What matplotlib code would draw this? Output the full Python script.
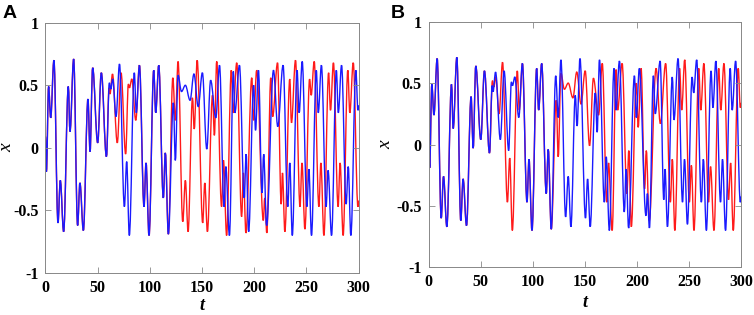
import numpy as np
import matplotlib.pyplot as plt
from matplotlib.path import Path
from matplotlib.patches import PathPatch

# turning points (t, x)
# both trajectories share the same start
common_t = [0, 0.9, 3.0, 5.0, 8.1, 12.0, 14.2, 17.4, 21.9, 23.5, 27.0, 30.8,
            33.0, 36.3, 40.7, 42.7, 45.2, 50.0, 53.5, 58.4]
common_x = [0.09, -0.19, 0.49, 0.24, 0.70, -0.60, -0.26, -0.67, 0.49, 0.13, 0.71, -0.62,
            -0.28, -0.66, 0.39, -0.03, 0.64, 0.04, 0.60, -0.07]

# first split
u1_t = [61.2, 62.6, 64.4, 67.6, 70.9, 75.6, 77.8, 80.3, 85.1, 87.0]
u1_x = [0.52, 0.47, 0.55, 0.25, 0.67, -0.47, -0.11, -0.70, 0.60, 0.28]
v1_t = [60.9, 61.8, 64.2, 68.8, 72.4, 76.8, 79.4, 80.5, 82.7, 86.5]
v1_x = [0.48, 0.43, 0.59, 0.04, 0.60, -0.05, 0.51, 0.48, 0.55, 0.22]

# back together for a while
mid_t = [90.0, 94.4, 96.3, 99.2, 103.7, 105.6, 108.5, 112.9, 114.8, 117.7]
mid_x = [0.66, -0.47, -0.12, -0.70, 0.62, 0.28, 0.66, -0.40, -0.04, -0.69]

# second split
u2_t = [122.5, 124.4, 127.0, 130.3, 134.0, 138.5, 142.2, 146.3, 150.3, 154.5,
        158.2, 163.2, 166.7, 171.1, 172.7, 176.2, 180.0, 181.4, 185.8, 190.4,
        192.2, 194.6, 199.4, 201.2, 204.0, 207.4, 209.0, 211.8, 218.4, 222.5,
        227.6, 232.1, 234.0, 236.4, 241.0, 243.0, 245.9, 250.4, 252.3, 254.8,
        259.4, 261.3, 264.3, 268.8, 270.7, 274.0, 278.6, 280.5, 283.6, 288.0,
        290.0, 292.5, 297.3, 299.3, 300.5]
u2_x = [0.36, -0.10, 0.58, 0.45, 0.50, 0.38, 0.59, 0.33, 0.60, -0.01,
        0.54, 0.24, 0.66, -0.47, -0.15, -0.70, 0.61, 0.28, 0.66, -0.40,
        -0.05, -0.67, 0.50, 0.14, 0.62, -0.36, -0.05, -0.62, 0.62, 0.17,
        0.66, -0.47, -0.12, -0.70, 0.62, 0.28, 0.69, -0.47, -0.17, -0.70,
        0.62, 0.28, 0.66, -0.47, -0.18, -0.70, 0.62, 0.28, 0.66, -0.45,
        -0.15, -0.70, 0.62, 0.30, 0.34]
v2_t = [122.0, 124.4, 127.0, 131.5, 134.0, 136.6, 140.8, 142.5, 145.3, 150.6,
        152.6, 155.1, 160.0, 161.8, 164.0, 168.7, 170.5, 173.5, 178.0, 179.8,
        183.2, 187.9, 189.6, 192.0, 197.6, 199.4, 202.3, 208.7, 210.0, 212.0,
        215.8, 217.6, 222.3, 225.8, 227.0, 229.3, 234.0, 235.6, 239.5, 243.8,
        245.7, 248.5, 253.0, 254.5, 257.4, 261.9, 263.8, 266.7, 271.2, 273.0,
        275.8, 280.3, 282.2, 285.1, 289.6, 291.5, 294.8, 299.3, 300.5]
v2_x = [0.56, 0.22, 0.69, -0.59, -0.26, -0.67, 0.40, 0.15, 0.70, -0.60,
        -0.28, -0.67, 0.42, 0.10, 0.69, -0.47, -0.10, -0.70, 0.62, 0.28,
        0.68, -0.55, -0.20, -0.68, 0.56, 0.22, 0.62, -0.58, -0.40, -0.68,
        0.56, 0.25, 0.68, -0.45, -0.20, -0.67, 0.55, 0.20, 0.70, -0.47,
        -0.12, -0.65, 0.55, 0.42, 0.69, -0.47, -0.12, -0.70, 0.60, 0.30,
        0.68, -0.47, -0.12, -0.70, 0.62, 0.28, 0.68, -0.47, -0.42]

xticks = [0, 50, 100, 150, 200, 250, 300]
yticks = [-1, -0.5, 0, 0.5, 1]
ytick_labels = ['-1', '-0.5', '0', '0.5', '1']

traj_u_t = common_t + u1_t + mid_t + u2_t
traj_u_x = common_x + u1_x + mid_x + u2_x
traj_v_t = common_t + v1_t + mid_t + v2_t
traj_v_x = common_x + v1_x + mid_x + v2_x


def smooth_curve(ax, t, x, color):
    # cubic bezier between turning points, flat tangent at each one
    verts = [(t[0], x[0])]
    codes = [Path.MOVETO]
    for i in range(len(t) - 1):
        d = 0.364 * (t[i + 1] - t[i])
        verts += [(t[i] + d, x[i]), (t[i + 1] - d, x[i + 1]), (t[i + 1], x[i + 1])]
        codes += [Path.CURVE4] * 3
    ax.add_patch(PathPatch(Path(verts, codes), fill=False, edgecolor=color, lw=1.0))


def style(ax):
    ax.set_xlim(0, 300)
    ax.set_ylim(-1, 1)
    ax.set_xticks(xticks)
    ax.set_yticks(yticks)
    ax.set_yticklabels(ytick_labels)
    ax.tick_params(direction='in', top=True, right=True, length=4, width=0.6,
                   color='#888888', pad=5)
    for lab in ax.get_xticklabels() + ax.get_yticklabels():
        lab.set_fontfamily('Liberation Serif')
        lab.set_fontweight('bold')
        lab.set_fontsize(11.5)
    for s in ax.spines.values():
        s.set_color('#888888')
        s.set_linewidth(0.7)


fig = plt.figure(figsize=(7.54, 3.15), dpi=100)
axA = fig.add_axes([0.0603, 0.1333, 0.4154, 0.7947])
axB = fig.add_axes([0.5686, 0.1514, 0.4142, 0.7797])

# panel A: red under blue
smooth_curve(axA, traj_v_t, traj_v_x, '#ff1a1a')
smooth_curve(axA, traj_u_t, traj_u_x, '#1a1aff')
# panel B: the same pair with colours swapped
smooth_curve(axB, traj_u_t, traj_u_x, '#ff1a1a')
smooth_curve(axB, traj_v_t, traj_v_x, '#1a1aff')

for ax in (axA, axB):
    style(ax)
    ax.set_xlabel('t', fontfamily='Liberation Serif', fontstyle='italic',
                  fontweight='bold', fontsize=13)
    ax.set_ylabel('x', fontfamily='Liberation Serif', fontstyle='italic',
                  fontsize=14, rotation=90)
axA.xaxis.set_label_coords(0.5, -0.095)
axA.yaxis.set_label_coords(-0.095, 0.5)
axB.xaxis.set_label_coords(0.5, -0.11)
axB.yaxis.set_label_coords(-0.11, 0.5)

fig.text(0.003, 0.985, 'A', fontfamily='Liberation Sans', fontweight='bold',
         fontsize=14, va='top')
fig.text(0.518, 0.985, 'B', fontfamily='Liberation Sans', fontweight='bold',
         fontsize=14, va='top')

fig.savefig('out.png', dpi=100)
